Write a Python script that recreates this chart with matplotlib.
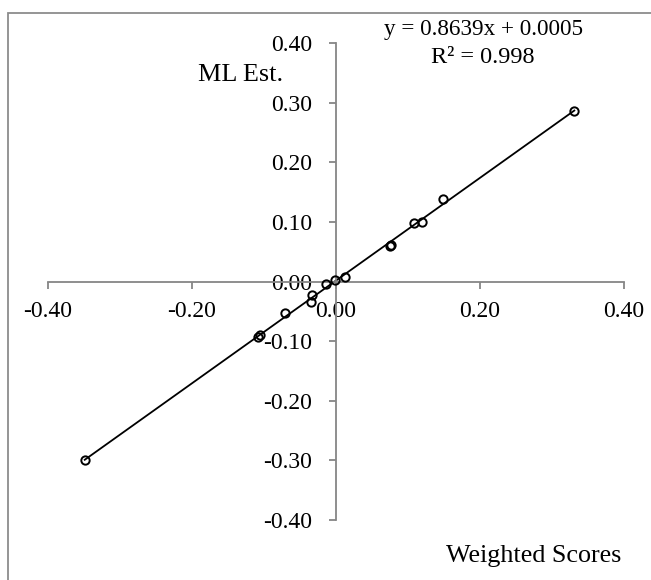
import numpy as np
import matplotlib
matplotlib.use("Agg")
import matplotlib.pyplot as plt
from matplotlib.patches import Rectangle

plt.rcParams['font.family'] = ['Liberation Serif', 'DejaVu Serif']

weighted_scores = [0.331, 0.149, 0.120, 0.108, 0.075, 0.077, 0.0125, -0.001,
                   -0.014, -0.034, -0.035, -0.071, -0.108, -0.105, -0.349]
ml_est = [0.287, 0.139, 0.100, 0.098, 0.060, 0.062, 0.008, 0.002,
          -0.005, -0.023, -0.034, -0.053, -0.093, -0.090, -0.300]
ticks = [-0.40, -0.30, -0.20, -0.10, 0.00, 0.10, 0.20, 0.30, 0.40]
xticks = [-0.40, -0.20, 0.00, 0.20, 0.40]
eq_text = "y = 0.8639x + 0.0005"
r2_text = "R² = 0.998"

W, H = 651, 580
fig = plt.figure(figsize=(W / 100, H / 100), dpi=100)

# outer chart-area frame (left/top visible)
fig.patches.append(Rectangle((8 / W, -0.1), 1.2, (H - 13.5) / H + 0.1,
                             transform=fig.transFigure, fill=False,
                             edgecolor='#8c8c8c', linewidth=1.3))

ax = fig.add_axes([48 / W, (H - 519.7) / H, 576 / W, 476.4 / H])
ax.set_xlim(-0.4, 0.4)
ax.set_ylim(-0.4, 0.4)
ax.patch.set_alpha(0)

for s in ['top', 'right']:
    ax.spines[s].set_visible(False)
for s in ['left', 'bottom']:
    ax.spines[s].set_position(('data', 0))
    ax.spines[s].set_color('#868686')
    ax.spines[s].set_linewidth(1.3)

ax.set_xticks(xticks)
ax.set_xticklabels([f"{t:.2f}" for t in xticks])
ax.set_yticks(ticks)
ax.set_yticklabels([f"{t:.2f}" for t in ticks])
ax.tick_params(axis='both', direction='out', length=5, width=1.3,
               color='#868686', labelsize=17, labelcolor='black')
ax.tick_params(axis='x', pad=9)
ax.tick_params(axis='y', pad=12)

x = np.array(weighted_scores)
y = np.array(ml_est)
m, b = np.polyfit(x, y, 1)
xl = np.array([x.min(), x.max()])
ax.plot(xl, m * xl + b, color='black', linewidth=1.3, zorder=2)
ax.plot(x, y, linestyle='none', marker='o', markersize=6,
        markerfacecolor='none', markeredgecolor='black',
        markeredgewidth=1.4, zorder=3)

fig.text(484 / W, 1 - 30 / H, eq_text, ha='center', va='center', fontsize=16.7)
fig.text(483 / W, 1 - 57.5 / H, r2_text, ha='center', va='center', fontsize=17.5)
fig.text(241 / W, 1 - 75 / H, "ML Est.", ha='center', va='center', fontsize=18.8)
fig.text(621 / W, 1 - 556 / H, "Weighted Scores", ha='right', va='center', fontsize=18.8)

fig.savefig("out.png", dpi=100)
